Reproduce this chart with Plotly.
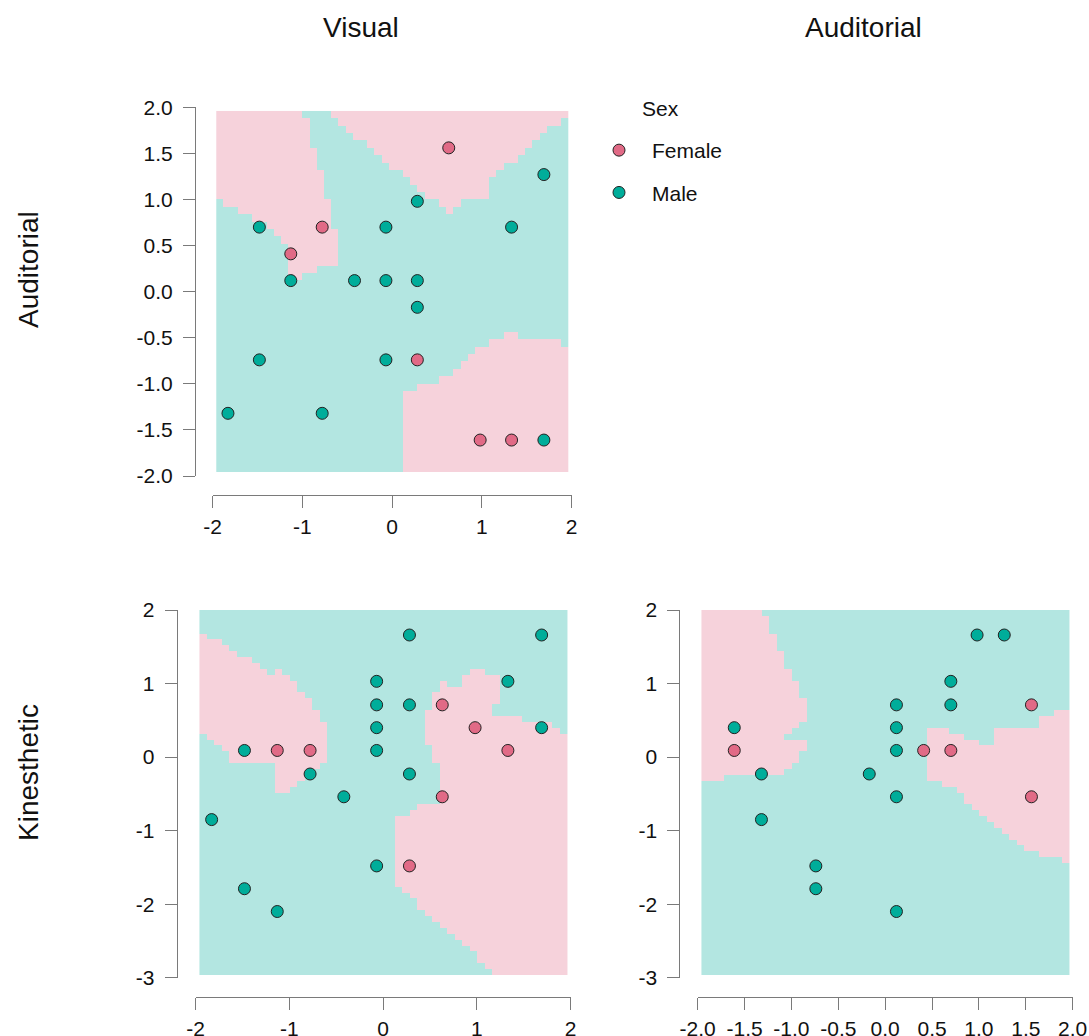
import numpy as np
import plotly.graph_objects as go

W, H = 1089, 1036
FONT = "Liberation Sans, Arial, sans-serif"

FEMALE = "#E16A86"
MALE = "#00AD9A"
FEMALE_BG = "#F6D2DB"
MALE_BG = "#B3E6E1"
AXIS_GRAY = "#7a7a7a"

# ---- observations shown in each panel -------------------------------------
# Visual vs Auditorial
TL_VIS = [-1.48, -0.78, -0.07, 1.33, 0.63, 0.28, 1.69, -1.13, -1.13, -0.42, -0.07,
          0.28, 0.28, -1.48, -0.07, 0.28, -1.83, -0.78, 0.98, 1.33, 1.69]
TL_AUD = [0.70, 0.70, 0.70, 0.70, 1.56, 0.98, 1.27, 0.41, 0.12, 0.12, 0.12,
          0.12, -0.17, -0.74, -0.74, -0.74, -1.32, -1.32, -1.61, -1.61, -1.61]
TL_SEX = ["Male", "Female", "Male", "Male", "Female", "Male", "Male", "Female", "Male", "Male", "Male",
          "Male", "Male", "Male", "Male", "Female", "Male", "Male", "Female", "Female", "Male"]

# Visual vs Kinesthetic
BL_VIS = [0.28, 1.69, -0.07, 1.33, -0.07, 0.28, 0.63, -0.07, 0.98, 1.69, -1.48, -1.13,
          -0.78, -0.07, 1.33, -0.78, 0.28, -0.42, 0.63, -1.83, -0.07, 0.28, -1.48, -1.13]
BL_KIN = [1.66, 1.66, 1.03, 1.03, 0.71, 0.71, 0.71, 0.40, 0.40, 0.40, 0.09, 0.09,
          0.09, 0.09, 0.09, -0.23, -0.23, -0.54, -0.54, -0.85, -1.48, -1.48, -1.79, -2.10]
BL_SEX = ["Male", "Male", "Male", "Male", "Male", "Male", "Female", "Male", "Female", "Male", "Male", "Female",
          "Female", "Male", "Female", "Male", "Male", "Male", "Female", "Male", "Male", "Female", "Male", "Male"]

# Auditorial vs Kinesthetic
BR_AUD = [0.98, 1.27, 0.70, 0.12, 0.70, 1.56, -1.61, 0.12, -1.61, 0.12, 0.41, 0.70,
          -1.32, -0.17, 0.12, 1.56, -1.32, -0.74, -0.74, 0.12]
BR_KIN = [1.66, 1.66, 1.03, 0.71, 0.71, 0.71, 0.40, 0.40, 0.09, 0.09, 0.09, 0.09,
          -0.23, -0.23, -0.54, -0.54, -0.85, -1.48, -1.79, -2.10]
BR_SEX = ["Male", "Male", "Male", "Male", "Male", "Female", "Male", "Male", "Female", "Male", "Female", "Female",
          "Male", "Male", "Male", "Female", "Male", "Male", "Male", "Male"]

# ---- classification grid (step 0.08) ----------------------------------------
GRID_STEP = 0.08
VIS_EDGES = (-1.96, 1.96)
AUD_EDGES = (-1.96, 1.96)
KIN_EDGES = (-2.96, 2.00)

# cells predicted "Female": (column, first row, last row), rows counted from the top
TL_FEMALE_CELLS = [
    (0, 0, 11), (1, 0, 12), (2, 0, 12), (3, 0, 13), (4, 0, 13), (5, 0, 14), (6, 0, 14),
    (7, 0, 15), (8, 0, 16), (9, 0, 17), (10, 0, 22), (11, 0, 22), (12, 1, 21), (13, 5, 21),
    (14, 8, 20), (15, 12, 20), (16, 16, 20),
    (16, 0, 0), (17, 0, 1), (18, 0, 2), (19, 0, 3), (20, 0, 3), (21, 0, 4), (22, 0, 5),
    (23, 0, 6), (24, 0, 7), (25, 0, 7), (26, 0, 8), (27, 0, 9), (28, 0, 10), (29, 0, 11),
    (30, 0, 11), (31, 0, 12), (32, 0, 13), (33, 0, 12), (34, 0, 11), (35, 0, 11), (36, 0, 11),
    (37, 0, 11), (38, 0, 8), (39, 0, 7), (40, 0, 6), (41, 0, 6), (42, 0, 5), (43, 0, 4),
    (44, 0, 3), (45, 0, 2), (46, 0, 1), (47, 0, 1), (48, 0, 0),
    (26, 38, 48), (27, 38, 48), (28, 37, 48), (29, 37, 48), (30, 37, 48), (31, 36, 48),
    (32, 36, 48), (33, 35, 48), (34, 34, 48), (35, 33, 48), (36, 32, 48), (37, 32, 48),
    (38, 31, 48), (39, 31, 48), (40, 30, 48), (41, 30, 48), (42, 31, 48), (43, 31, 48),
    (44, 31, 48), (45, 31, 48), (46, 31, 48), (47, 31, 48), (48, 32, 48),
]

BL_FEMALE_CELLS = [
    (0, 4, 20), (1, 5, 21), (2, 5, 22), (3, 6, 23), (4, 7, 25), (5, 8, 25), (6, 8, 25),
    (7, 9, 25), (8, 10, 25), (9, 11, 25), (10, 10, 30), (11, 11, 30), (12, 12, 29),
    (13, 14, 28), (14, 15, 27), (15, 17, 26), (16, 19, 25),
    (26, 35, 46), (27, 35, 47), (28, 34, 48), (29, 33, 50), (30, 17, 22), (30, 33, 51),
    (31, 14, 25), (31, 33, 52), (32, 12, 53), (33, 13, 54), (34, 13, 55), (35, 11, 56),
    (36, 10, 57), (37, 10, 59), (38, 11, 60), (39, 11, 15), (39, 18, 61), (40, 18, 61),
    (41, 18, 61), (42, 18, 61), (43, 19, 61), (44, 19, 61), (45, 19, 61), (46, 19, 61),
    (47, 20, 61), (48, 21, 61),
]

BR_FEMALE_CELLS = [
    (0, 0, 28), (1, 0, 28), (2, 0, 28), (3, 0, 27), (4, 0, 27), (5, 0, 27), (6, 0, 27),
    (7, 0, 27), (8, 1, 27), (9, 4, 27), (10, 7, 27), (11, 10, 20), (11, 22, 26),
    (12, 12, 19), (12, 22, 25), (13, 15, 18), (13, 22, 23),
    (30, 20, 28), (31, 20, 28), (32, 20, 29), (33, 21, 29), (34, 21, 30), (35, 22, 32),
    (36, 22, 33), (37, 23, 34), (38, 23, 35), (39, 20, 36), (40, 20, 37), (41, 20, 38),
    (42, 20, 39), (43, 20, 40), (44, 20, 40), (45, 18, 41), (46, 18, 41), (47, 17, 41),
    (48, 17, 42),
]


def region_trace(cells, xedges, yedges, xa, ya):
    nx = int(round((xedges[1] - xedges[0]) / GRID_STEP))
    ny = int(round((yedges[1] - yedges[0]) / GRID_STEP))
    z = np.zeros((ny, nx))
    for c, r0, r1 in cells:
        z[r0:r1 + 1, c] = 1
    z = z[::-1]  # first row at the bottom
    xc = xedges[0] + GRID_STEP * (np.arange(nx) + 0.5)
    yc = yedges[0] + GRID_STEP * (np.arange(ny) + 0.5)
    return go.Heatmap(z=z, x=xc, y=yc, zmin=0, zmax=1,
                      colorscale=[[0, MALE_BG], [1, FEMALE_BG]],
                      showscale=False, hoverinfo="skip", xaxis=xa, yaxis=ya)


def point_traces(xs, ys, sexes, xa, ya, legend):
    out = []
    for sex, col in (("Female", FEMALE), ("Male", MALE)):
        px = [x for x, s in zip(xs, sexes) if s == sex]
        py = [y for y, s in zip(ys, sexes) if s == sex]
        out.append(go.Scatter(
            x=px, y=py, mode="markers", name=sex, legendgroup=sex,
            showlegend=legend, xaxis=xa, yaxis=ya,
            marker=dict(size=12, color=col, line=dict(color="#222222", width=1)),
        ))
    return out


fig = go.Figure()
fig.add_trace(region_trace(TL_FEMALE_CELLS, VIS_EDGES, AUD_EDGES, "x", "y"))
fig.add_trace(region_trace(BL_FEMALE_CELLS, VIS_EDGES, KIN_EDGES, "x2", "y2"))
fig.add_trace(region_trace(BR_FEMALE_CELLS, AUD_EDGES, KIN_EDGES, "x3", "y3"))
for t in point_traces(TL_VIS, TL_AUD, TL_SEX, "x", "y", True):
    fig.add_trace(t)
for t in point_traces(BL_VIS, BL_KIN, BL_SEX, "x2", "y2", False):
    fig.add_trace(t)
for t in point_traces(BR_AUD, BR_KIN, BR_SEX, "x3", "y3", False):
    fig.add_trace(t)


def fx(px):
    return px / W


def fy(py):
    return 1 - py / H


def axis(domain, rng, ticks, labels, pos, standoff):
    return dict(domain=domain, range=rng, tickvals=ticks, ticktext=labels,
                anchor="free", position=pos, automargin=False,
                showgrid=False, zeroline=False,
                showline=True, linecolor=AXIS_GRAY, linewidth=1,
                ticks="outside", ticklen=12, tickwidth=1, tickcolor=AXIS_GRAY,
                tickangle=0, ticklabelstandoff=standoff,
                tickfont=dict(family=FONT, size=21, color="#111111"),
                fixedrange=True)


int_ticks = lambda lo, hi: list(range(lo, hi + 1))
half_ticks = [-2.0, -1.5, -1.0, -0.5, 0.0, 0.5, 1.0, 1.5, 2.0]
half_labels = [f"{v:.1f}" for v in half_ticks]
XS, YS = 1, 6

fig.update_layout(
    width=W, height=H, autosize=False,
    margin=dict(l=0, r=0, t=0, b=0, pad=0),
    paper_bgcolor="white", plot_bgcolor="white",
    font=dict(family=FONT, color="#111111"),
    xaxis=axis([fx(212.7), fx(571.7)], [-2, 2], int_ticks(-2, 2),
               [str(v) for v in int_ticks(-2, 2)], fy(495), XS),
    yaxis=axis([fy(476), fy(107.3)], [-2, 2], half_ticks, half_labels, fx(195), YS),
    xaxis2=axis([fx(195.7), fx(570.7)], [-2, 2], int_ticks(-2, 2),
                [str(v) for v in int_ticks(-2, 2)], fy(996.7), XS),
    yaxis2=axis([fy(977.7), fy(610)], [-3, 2], int_ticks(-3, 2),
                [str(v) for v in int_ticks(-3, 2)], fx(176.7), YS),
    xaxis3=axis([fx(697.7), fx(1072.7)], [-2, 2], half_ticks, half_labels, fy(996.7), XS),
    yaxis3=axis([fy(977.7), fy(610)], [-3, 2], int_ticks(-3, 2),
                [str(v) for v in int_ticks(-3, 2)], fx(679.3), YS),
    legend=dict(x=fx(586), y=fy(130), xanchor="left", yanchor="top",
                bgcolor="rgba(0,0,0,0)", itemwidth=56, tracegroupgap=12,
                font=dict(family=FONT, size=21, color="#111111"),
                itemclick=False, itemdoubleclick=False),
)

# legend heading
fig.add_annotation(text="Sex", x=fx(660), y=fy(108), xref="paper", yref="paper",
                   showarrow=False, xanchor="center", yanchor="middle",
                   font=dict(family=FONT, size=21, color="#111111"))

titles = [("Visual", 361, 28, 0), ("Auditorial", 863, 28, 0),
          ("Auditorial", 28, 270, -90), ("Kinesthetic", 28, 773, -90)]
for text, px, py, ang in titles:
    fig.add_annotation(text=text, x=fx(px), y=fy(py), xref="paper", yref="paper",
                       showarrow=False, xanchor="center", yanchor="middle",
                       textangle=ang, font=dict(family=FONT, size=28, color="#111111"))

fig.write_html("out.html")
